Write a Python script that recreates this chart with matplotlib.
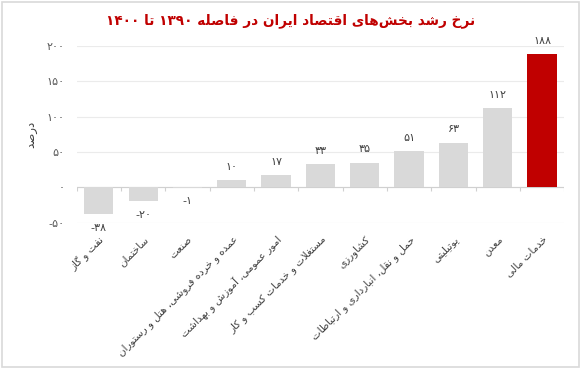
import re
import numpy as np
import matplotlib
matplotlib.use("Agg")
import matplotlib.pyplot as plt
from matplotlib.patches import Rectangle

# data
categories = ["نفت و گاز", "ساختمان", "صنعت",
              "عمده و خرده فروشی، هتل و رستوران",
              "امور عمومی، آموزش و بهداشت",
              "مستغلات و خدمات کسب و کار",
              "کشاورزی",
              "حمل و نقل، انبارداری و ارتباطات",
              "یوتیلیتی", "معدن", "خدمات مالی"]
values = [-38, -20, -1, 10, 17, 33, 35, 51, 63, 112, 188]
yticks = [-50, 0, 50, 100, 150, 200]
title = "نرخ رشد بخش‌های اقتصاد ایران در فاصله ۱۳۹۰ تا ۱۴۰۰"
ylabel = "درصد"

# small arabic/persian shaper: (isolated, final, initial, medial)
FORMS = {
    'ا': (0xFE8D, 0xFE8E), 'آ': (0xFE81, 0xFE82),
    'ب': (0xFE8F, 0xFE90, 0xFE91, 0xFE92), 'ت': (0xFE95, 0xFE96, 0xFE97, 0xFE98),
    'ث': (0xFE99, 0xFE9A, 0xFE9B, 0xFE9C), 'ج': (0xFE9D, 0xFE9E, 0xFE9F, 0xFEA0),
    'ح': (0xFEA1, 0xFEA2, 0xFEA3, 0xFEA4), 'خ': (0xFEA5, 0xFEA6, 0xFEA7, 0xFEA8),
    'د': (0xFEA9, 0xFEAA), 'ذ': (0xFEAB, 0xFEAC), 'ر': (0xFEAD, 0xFEAE),
    'ز': (0xFEAF, 0xFEB0), 'ژ': (0xFB8A, 0xFB8B),
    'س': (0xFEB1, 0xFEB2, 0xFEB3, 0xFEB4), 'ش': (0xFEB5, 0xFEB6, 0xFEB7, 0xFEB8),
    'ص': (0xFEB9, 0xFEBA, 0xFEBB, 0xFEBC), 'ض': (0xFEBD, 0xFEBE, 0xFEBF, 0xFEC0),
    'ط': (0xFEC1, 0xFEC2, 0xFEC3, 0xFEC4), 'ظ': (0xFEC5, 0xFEC6, 0xFEC7, 0xFEC8),
    'ع': (0xFEC9, 0xFECA, 0xFECB, 0xFECC), 'غ': (0xFECD, 0xFECE, 0xFECF, 0xFED0),
    'ف': (0xFED1, 0xFED2, 0xFED3, 0xFED4), 'ق': (0xFED5, 0xFED6, 0xFED7, 0xFED8),
    'ک': (0xFB8E, 0xFB8F, 0xFB90, 0xFB91), 'گ': (0xFB92, 0xFB93, 0xFB94, 0xFB95),
    'ل': (0xFEDD, 0xFEDE, 0xFEDF, 0xFEE0), 'م': (0xFEE1, 0xFEE2, 0xFEE3, 0xFEE4),
    'ن': (0xFEE5, 0xFEE6, 0xFEE7, 0xFEE8), 'ه': (0xFEE9, 0xFEEA, 0xFEEB, 0xFEEC),
    'و': (0xFEED, 0xFEEE), 'ی': (0xFBFC, 0xFBFD, 0xFBFE, 0xFBFF),
    'پ': (0xFB56, 0xFB57, 0xFB58, 0xFB59), 'چ': (0xFB7A, 0xFB7B, 0xFB7C, 0xFB7D),
}
LAM_ALEF = {'ا': (0xFEFB, 0xFEFC), 'آ': (0xFEF5, 0xFEF6)}


def shape(s):
    out = []
    i = 0
    prev_joins = False
    while i < len(s):
        c = s[i]
        if c not in FORMS:
            if c != '\u200c':
                out.append(c)
            prev_joins = False
            i += 1
            continue
        nxt = s[i + 1] if i + 1 < len(s) else ''
        if c == 'ل' and nxt in LAM_ALEF:
            out.append(chr(LAM_ALEF[nxt][1 if prev_joins else 0]))
            prev_joins = False
            i += 2
            continue
        f = FORMS[c]
        dual = len(f) == 4
        join_next = dual and nxt in FORMS
        if prev_joins and join_next:
            g = f[3]
        elif prev_joins:
            g = f[1]
        elif join_next:
            g = f[2]
        else:
            g = f[0]
        out.append(chr(g))
        prev_joins = dual
        i += 1
    return ''.join(out)


def fa(s):
    vis = shape(s)[::-1]
    return re.sub(r'[0-9\u06f0-\u06f9]+', lambda m: m.group(0)[::-1], vis)


def fa_num(v):
    digits = str(abs(v)).translate(str.maketrans('0123456789', '۰۱۲۳۴۵۶۷۸۹'))
    return ('-' if v < 0 else '') + digits


plt.rcParams['font.family'] = ['DejaVu Sans']

fig = plt.figure(figsize=(5.81, 3.69), dpi=100)
ax = fig.add_axes([0.132, 0.3965, 0.839, 0.4795])

x = np.arange(len(values))
colors = ['#D9D9D9'] * (len(values) - 1) + ['#C00000']
bars = ax.bar(x, values, width=0.66, color=colors, zorder=3)

for xi, v in zip(x, values):
    if v >= 0:
        ax.annotate(fa_num(v), (xi, v), xytext=(0, 6), textcoords='offset points',
                    ha='center', va='bottom', fontsize=8, color='#404040')
    else:
        ax.annotate(fa_num(v), (xi, v), xytext=(0, -6), textcoords='offset points',
                    ha='center', va='top', fontsize=8, color='#404040')

ax.set_ylim(-50, 200)
ax.set_xlim(-0.5, len(values) - 0.5)
ax.set_yticks(yticks)
ax.set_yticklabels([fa_num(t) for t in yticks], fontsize=8, color='#595959')
ax.yaxis.grid(True, color='#EBEBEB', linewidth=0.8, zorder=0)
ax.tick_params(axis='y', length=0, pad=9)

ax.set_xticks(x)
ax.set_xticklabels([fa(c) for c in categories], rotation=45, ha='right',
                   rotation_mode='anchor', fontsize=7.5, color='#404040')
ax.tick_params(axis='x', length=0, pad=8)

for sp in ax.spines.values():
    sp.set_visible(False)

# zero line and category separators
ax.axhline(0, color='#D0D0D0', linewidth=0.8, zorder=2)
ax.vlines(np.arange(len(values) + 1) - 0.5, -5, 0, color='#D0D0D0', linewidth=0.8, zorder=2)

ax.set_ylabel(fa(ylabel), fontsize=8.5, color='#404040', labelpad=6)

fig.text(0.5, 0.945, fa(title), ha='center', va='center', fontsize=9.8,
         fontweight='bold', color='#C00000')

fig.patches.append(Rectangle((0.004, 0.005), 0.992, 0.99, transform=fig.transFigure,
                             fill=False, edgecolor='#D9D9D9', linewidth=1.2))

fig.savefig('out.png', dpi=100)
